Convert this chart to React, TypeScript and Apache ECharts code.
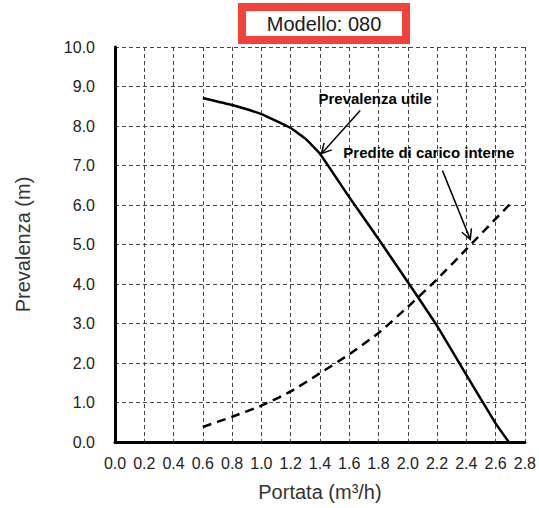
import React, { useEffect, useRef } from "react";
import * as echarts from "echarts";

const FONT = '"Liberation Sans", Arial, sans-serif';

const titleText = "Modello: 080";
const xAxisTitle = "Portata (m³/h)";
const yAxisTitle = "Prevalenza (m)";

// Prevalenza utile (solid)
const utileX = [0.6, 0.8, 1.0, 1.2, 1.3, 1.4, 1.6, 1.8, 2.0, 2.2, 2.4, 2.6, 2.69];
const utileY = [8.71, 8.53, 8.3, 7.95, 7.68, 7.3, 6.2, 5.14, 4.05, 2.94, 1.7, 0.47, 0];

// Perdite di carico interne (dashed)
const perditeX = [0.6, 0.8, 1.0, 1.2, 1.4, 1.6, 1.8, 2.0, 2.2, 2.4, 2.6, 2.7];
const perditeY = [0.38, 0.64, 0.92, 1.28, 1.74, 2.22, 2.76, 3.42, 4.12, 4.88, 5.65, 6.03];

// annotations in data coordinates
const labels = [
  { text: "Prevalenza utile", at: [1.39, 8.7] },
  { text: "Predite di carico interne", at: [1.56, 7.33] },
];
const arrows = [
  { from: [1.675, 8.39], to: [1.41, 7.3] },
  { from: [2.237, 6.87], to: [2.427, 5.13] },
];

export default function App() {
  const ref = useRef<HTMLDivElement>(null);
  useEffect(() => {
    if (!ref.current) return;
    const chart = echarts.init(ref.current, undefined, { renderer: "svg" });
    const gridLine = { show: true, lineStyle: { color: "#444", width: 1, type: [4, 3] as any } };
    chart.setOption({
      animation: false,
      backgroundColor: "#fff",
      grid: { left: 115, right: 11, top: 47, bottom: 66, containLabel: false },
      xAxis: {
        type: "value",
        min: 0,
        max: 2.8,
        interval: 0.2,
        axisLine: { show: true, onZero: false, lineStyle: { color: "#000", width: 3 } },
        axisTick: { show: false },
        splitLine: gridLine,
        axisLabel: {
          formatter: (v: number) => v.toFixed(1),
          fontFamily: FONT,
          fontSize: 16,
          color: "#222",
          margin: 13,
          showMaxLabel: true,
          showMinLabel: true,
        },
        name: xAxisTitle,
        nameLocation: "middle",
        nameGap: 40,
        nameTextStyle: { fontFamily: FONT, fontSize: 20, color: "#333" },
      },
      yAxis: {
        type: "value",
        min: 0,
        max: 10,
        interval: 1,
        axisLine: { show: true, onZero: false, lineStyle: { color: "#000", width: 3 } },
        axisTick: { show: false },
        splitLine: gridLine,
        axisLabel: {
          formatter: (v: number) => v.toFixed(1),
          fontFamily: FONT,
          fontSize: 16,
          color: "#222",
          margin: 20,
        },
        name: yAxisTitle,
        nameLocation: "middle",
        nameGap: 82,
        nameTextStyle: { fontFamily: FONT, fontSize: 20, color: "#333" },
      },
      series: [
        {
          type: "line",
          name: "Prevalenza utile",
          data: utileX.map((x, i) => [x, utileY[i]]),
          showSymbol: false,
          smooth: 0.12,
          lineStyle: { color: "#000", width: 2.5 },
          z: 3,
        },
        {
          type: "line",
          name: "Perdite di carico interne",
          data: perditeX.map((x, i) => [x, perditeY[i]]),
          showSymbol: false,
          smooth: 0.2,
          lineStyle: { color: "#000", width: 2.5, type: [9, 6] as any },
          z: 3,
        },
      ],
    });

    const px = (p: number[]) => chart.convertToPixel({ gridIndex: 0 }, p) as number[];
    const graphics: any[] = [
      {
        type: "rect",
        shape: { x: 242, y: 7, width: 164, height: 33 },
        style: { fill: "#fff", stroke: "#f2433a", lineWidth: 8 },
        z: 10,
      },
      {
        type: "text",
        x: 324,
        y: 24,
        style: {
          text: titleText,
          fontFamily: FONT,
          fontSize: 20,
          fill: "#1a1a1a",
          align: "center",
          verticalAlign: "middle",
        },
        z: 11,
      },
    ];
    labels.forEach((l) => {
      const p = px(l.at);
      graphics.push({
        type: "text",
        x: p[0],
        y: p[1],
        style: {
          text: l.text,
          fontFamily: FONT,
          fontSize: 15,
          fontWeight: "bold",
          fill: "#000",
          align: "left",
          verticalAlign: "middle",
        },
        z: 12,
      });
    });
    arrows.forEach((a) => {
      const f = px(a.from);
      const t = px(a.to);
      const dx = f[0] - t[0];
      const dy = f[1] - t[1];
      const len = Math.hypot(dx, dy);
      const ux = dx / len;
      const uy = dy / len;
      const hl = 11;
      const ang = (28 * Math.PI) / 180;
      const rot = (s: number) => [
        t[0] + hl * (ux * Math.cos(s * ang) - uy * Math.sin(s * ang)),
        t[1] + hl * (ux * Math.sin(s * ang) + uy * Math.cos(s * ang)),
      ];
      graphics.push({
        type: "line",
        shape: { x1: f[0], y1: f[1], x2: t[0], y2: t[1] },
        style: { stroke: "#000", lineWidth: 1.5 },
        z: 12,
      });
      graphics.push({
        type: "polyline",
        shape: { points: [rot(1), t, rot(-1)] },
        style: { stroke: "#000", lineWidth: 1.5, fill: null },
        z: 12,
      });
    });
    chart.setOption({ graphic: graphics });

    return () => chart.dispose();
  }, []);
  return (
    <div
      ref={ref}
      style={{ position: "fixed", left: 0, top: 0, width: 539, height: 508, background: "#fff" }}
    />
  );
}
